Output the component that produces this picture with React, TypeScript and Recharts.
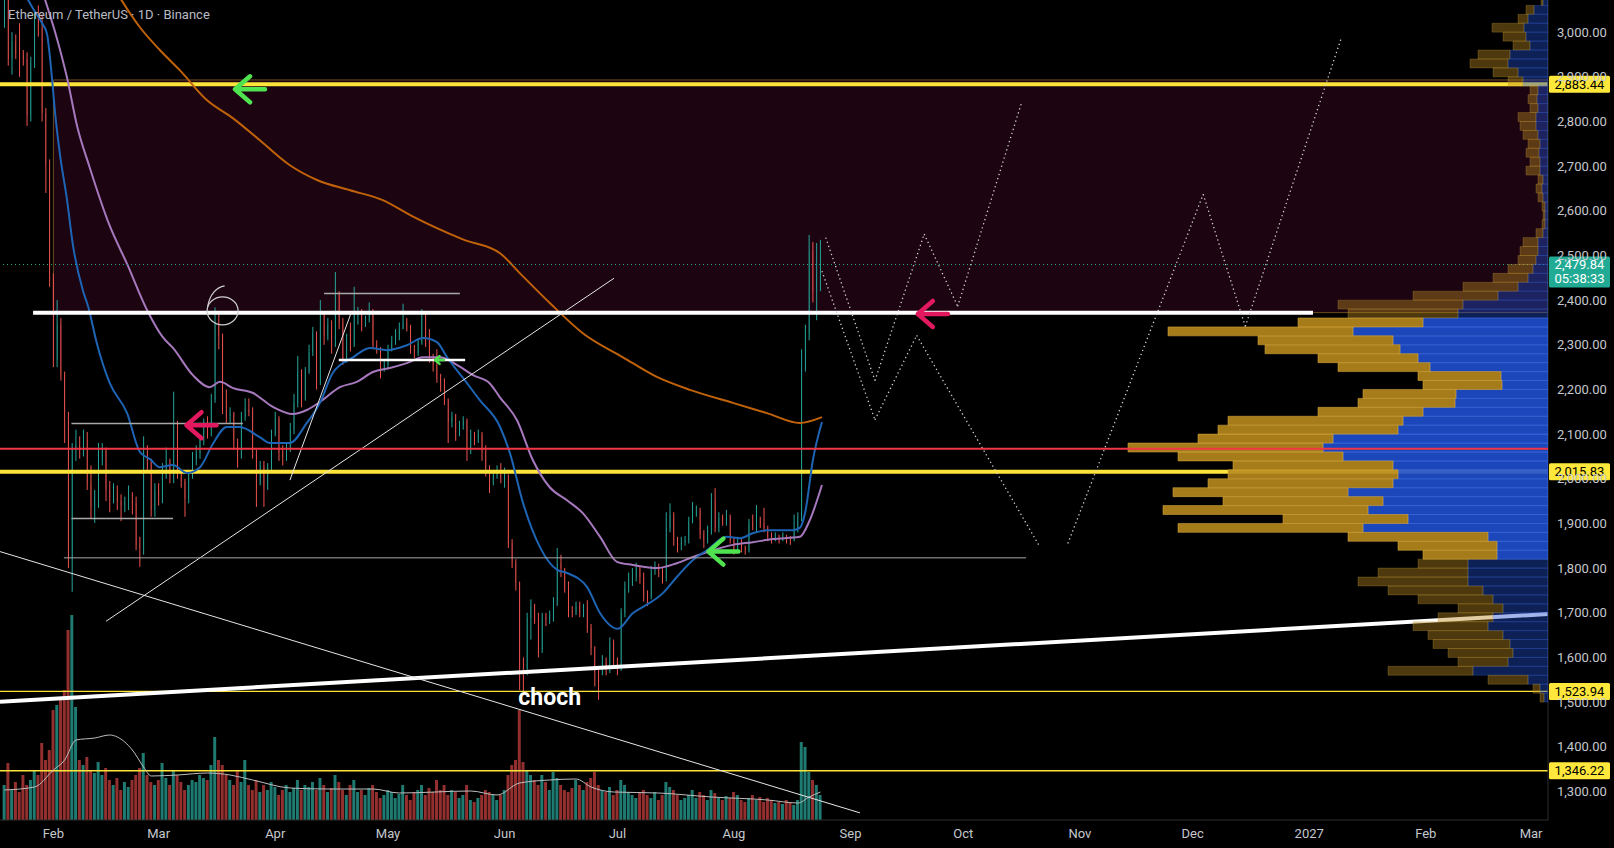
import React from "react";
import {
  ComposedChart,
  Bar,
  Line,
  XAxis,
  YAxis,
  Cell,
  ReferenceArea,
  ReferenceLine,
  ReferenceDot,
} from "recharts";

const W = 1614;
const H = 848;
const UP = "#26a69a";
const DOWN = "#ef5350";
const BORDER = "#2f2f2f";
const TEXT = "#c5c8ce";
const FONT = "Roboto, 'Noto Sans', sans-serif";
const PRICE_DOMAIN = [1236, 3072];
const DAY_DOMAIN = [-1.2, 410.5];

// daily candles, day 0 = Jan 19 2026 (open of the first day; later opens = previous close)
const firstOpen = 3040;
const closes = [
  3085, 2940, 2980, 2951, 2948, 2940, 2814, 2931, 3029, 3012,
  2819, 2702, 2447, 2266, 2344, 2232, 2147, 1825, 2064, 2075,
  2064, 2087, 1990, 1937, 1960, 2045, 2064, 1975, 1960, 1968,
  1950, 1940, 1948, 1952, 1945, 1851, 1848, 2057, 2042, 1930,
  1975, 1960, 2020, 2035, 2010, 2124, 2015, 1995, 1955, 2010,
  2042, 2057, 2087, 2124, 2110, 2176, 2350, 2318, 2154, 2140,
  2145, 2080, 2050, 2140, 2155, 2150, 2058, 1990, 2030, 1982,
  2027, 2102, 2135, 2058, 2050, 2065, 2110, 2170, 2239, 2180,
  2240, 2284, 2326, 2215, 2366, 2320, 2345, 2300, 2416, 2350,
  2266, 2311, 2300, 2370, 2372, 2345, 2355, 2375, 2300, 2290,
  2250, 2255, 2290, 2305, 2315, 2335, 2350, 2340, 2290, 2282,
  2306, 2366, 2306, 2270, 2255, 2225, 2215, 2176, 2127, 2140,
  2100, 2120, 2130, 2064, 2100, 2090, 2098, 2060, 2020, 1997,
  2010, 2015, 2000, 2005, 1856, 1811, 1767, 1578, 1575, 1688,
  1713, 1690, 1617, 1690, 1685, 1692, 1724, 1811, 1800, 1755,
  1706, 1700, 1715, 1700, 1712, 1666, 1621, 1567, 1565, 1590,
  1575, 1634, 1590, 1575, 1699, 1755, 1766, 1780, 1800, 1780,
  1740, 1735, 1795, 1800, 1795, 1778, 1890, 1919, 1863, 1850,
  1858, 1862, 1905, 1926, 1928, 1875, 1862, 1885, 1952, 1890,
  1912, 1905, 1915, 1863, 1840, 1855, 1845, 1840, 1900, 1893,
  1905, 1900, 1890, 1870, 1864, 1870, 1864, 1870, 1865, 1862,
  1890, 1915, 2250, 2326, 2512, 2418, 2460, 2479.84,
];
const highs = [
  3115, 3100, 3000, 2995, 3020, 2960, 2955, 2945, 3045, 3060,
  3040, 2830, 2715, 2460, 2400, 2360, 2240, 2150, 2080, 2110,
  2095, 2110, 2105, 2030, 1975, 2080, 2080, 2070, 1995, 1990,
  1985, 1965, 1960, 1985, 1970, 1960, 1870, 2095, 2075, 2045,
  1990, 1990, 2035, 2070, 2045, 2195, 2130, 2020, 2000, 2020,
  2060, 2075, 2095, 2135, 2140, 2190, 2384, 2375, 2325, 2200,
  2160, 2150, 2090, 2150, 2180, 2180, 2160, 2065, 2040, 2040,
  2035, 2110, 2150, 2140, 2075, 2080, 2125, 2190, 2275, 2245,
  2250, 2300, 2340, 2330, 2400, 2375, 2360, 2355, 2463, 2420,
  2360, 2325, 2350, 2430, 2385, 2380, 2365, 2395, 2380, 2310,
  2295, 2265, 2300, 2320, 2335, 2350, 2392, 2360, 2345, 2300,
  2315, 2380, 2370, 2335, 2280, 2290, 2235, 2225, 2180, 2150,
  2145, 2130, 2140, 2135, 2110, 2105, 2110, 2105, 2075, 2030,
  2020, 2030, 2035, 2025, 2010, 1865, 1820, 1770, 1600, 1700,
  1730, 1720, 1700, 1700, 1700, 1705, 1735, 1845, 1830, 1800,
  1770, 1715, 1725, 1725, 1720, 1728, 1675, 1625, 1575, 1605,
  1600, 1645, 1640, 1600, 1710, 1770, 1790, 1800, 1812, 1805,
  1790, 1750, 1805, 1815, 1810, 1800, 1925, 1945, 1925, 1870,
  1870, 1872, 1915, 1948, 1940, 1935, 1885, 1895, 1968, 1979,
  1925, 1920, 1930, 1920, 1870, 1870, 1865, 1850, 1910, 1920,
  1941, 1915, 1935, 1895, 1880, 1880, 1875, 1880, 1875, 1872,
  1920, 1925, 2290, 2345, 2546, 2530, 2528, 2535,
];
const lows = [
  3010, 2925, 2905, 2940, 2900, 2925, 2790, 2800, 2920, 2990,
  2800, 2640, 2430, 2250, 2250, 2220, 2080, 1800, 1747, 2040,
  2045, 2050, 1975, 1910, 1901, 1935, 2030, 1950, 1925, 1945,
  1930, 1905, 1925, 1930, 1920, 1840, 1803, 1830, 2020, 1915,
  1915, 1940, 1945, 2000, 1990, 1990, 2000, 1980, 1915, 1945,
  2000, 2030, 2045, 2075, 2090, 2095, 2170, 2290, 2145, 2125,
  2125, 2065, 2025, 2045, 2130, 2140, 2045, 1937, 1985, 1937,
  1975, 2020, 2095, 2040, 2030, 2040, 2060, 2100, 2160, 2160,
  2175, 2235, 2275, 2200, 2210, 2300, 2310, 2280, 2295, 2335,
  2255, 2260, 2285, 2295, 2345, 2330, 2340, 2350, 2290, 2280,
  2225, 2240, 2245, 2285, 2300, 2310, 2335, 2330, 2280, 2270,
  2275, 2300, 2295, 2260, 2240, 2215, 2195, 2165, 2080, 2115,
  2085, 2095, 2110, 2040, 2055, 2075, 2080, 2040, 2005, 1968,
  1985, 2000, 1990, 1980, 1845, 1800, 1750, 1527, 1515, 1560,
  1640, 1675, 1600, 1610, 1670, 1675, 1680, 1715, 1780, 1745,
  1690, 1690, 1695, 1690, 1690, 1655, 1605, 1535, 1505, 1560,
  1560, 1565, 1575, 1560, 1570, 1690, 1745, 1760, 1770, 1765,
  1725, 1715, 1730, 1785, 1780, 1765, 1770, 1880, 1850, 1835,
  1840, 1850, 1855, 1900, 1915, 1865, 1845, 1855, 1875, 1880,
  1880, 1895, 1895, 1855, 1830, 1835, 1835, 1830, 1835, 1885,
  1880, 1890, 1880, 1860, 1855, 1860, 1855, 1860, 1855, 1852,
  1860, 1880, 1905, 2240, 2310, 2395, 2355, 2420,
];
// daily volume (thousand ETH)
const volumes = [
  35, 57, 30, 38, 28, 45, 35, 40, 50, 45,
  77, 60, 70, 110, 115, 120, 130, 190, 205, 113,
  60, 55, 63, 50, 47, 58, 45, 52, 40, 35,
  42, 30, 38, 33, 40, 45, 52, 67, 45, 38,
  35, 40, 57, 42, 35, 50, 45, 38, 30, 35,
  40, 38, 45, 42, 40, 55, 83, 60, 55, 45,
  40, 35, 50, 38, 60, 35, 30, 40, 28, 35,
  30, 38, 33, 25, 30, 35, 28, 32, 40, 30,
  35, 33, 38, 30, 42, 35, 28, 32, 45, 38,
  30, 25, 35, 40, 28, 30, 25, 32, 35, 28,
  22, 25, 30, 28, 22, 26, 35, 25, 20, 28,
  30, 35, 25, 32, 28, 40, 30, 35, 25, 30,
  28, 22, 25, 35, 20, 18, 22, 25, 30, 28,
  25, 20, 25, 30, 45, 55, 60, 110, 58, 50,
  45, 40, 35, 45, 38, 30, 48, 42, 35, 30,
  28, 32, 40, 35, 30, 38, 42, 48, 35, 30,
  28, 33, 25, 30, 40, 35, 28, 25, 22, 28,
  30, 25, 22, 28, 20, 25, 38, 33, 30, 25,
  20, 22, 25, 30, 22, 28, 25, 20, 30, 27,
  22, 20, 24, 22, 28, 25, 20, 18, 22, 25,
  20, 23, 18, 22, 20, 17, 18, 16, 20, 18,
  15, 20, 78, 73, 48, 40, 35, 25,
];

// moving averages: [day, price]
const fastMa = [
  [4.5, 3100], [7.5, 3054], [10, 3020], [11.3, 2996], [12.6, 2899], [13.4, 2823], [14.7, 2729],
  [16.6, 2626], [18.2, 2523], [20.9, 2420], [22.2, 2387], [24.6, 2302], [28, 2214], [32.6, 2147],
  [36, 2060], [38.7, 2044], [41.3, 2026], [44.8, 2031], [48.5, 2013], [52, 2026], [55.4, 2078],
  [59.1, 2116], [62.6, 2116], [67.9, 2093], [70.6, 2080], [75.9, 2080], [80.4, 2125], [83.9, 2170],
  [87.3, 2237], [92.7, 2272], [97.2, 2293], [101.7, 2288], [107, 2299], [111.3, 2315], [115, 2306],
  [117.7, 2272], [123, 2214], [126.4, 2176], [131.8, 2116], [134.4, 2058], [137.9, 1946],
  [142.4, 1847], [147, 1796], [149.6, 1789], [154.9, 1758], [158.4, 1699], [163.1, 1664],
  [167.1, 1699], [169.8, 1713], [175.1, 1744], [178.8, 1780], [183.1, 1818], [186.8, 1840],
  [192.1, 1870], [195.6, 1867], [199, 1878], [202.8, 1885], [209.7, 1885], [211.5, 1890],
  [212.9, 1923], [215, 2042], [217.4, 2127],
];
const midMa = [
  [10.5, 3080], [13.9, 2987], [16.6, 2899], [19.3, 2790], [22.7, 2696], [28, 2566], [32.6, 2481],
  [37.9, 2378], [42.1, 2317], [44.8, 2293], [50.1, 2232], [54.6, 2205], [57.3, 2217], [60.8, 2203],
  [66.1, 2192], [71.4, 2161], [76.7, 2145], [80.4, 2154], [83.9, 2172], [89.2, 2205], [93.7, 2217],
  [98, 2239], [102.5, 2248], [107, 2259], [111.3, 2272], [115.8, 2272], [120.3, 2255], [124.6, 2232],
  [129, 2214], [131.7, 2183], [136.3, 2131], [140.5, 2042], [145, 1981], [149.6, 1952],
  [153.8, 1923], [158.4, 1870], [162.9, 1814], [167.1, 1807], [173.5, 1800], [178.8, 1811],
  [183.1, 1825], [188.4, 1840], [193.7, 1852], [199, 1858], [204.4, 1865], [211.5, 1870],
  [214.2, 1908], [217.4, 1986],
];
const slowMa = [
  [29, 3100], [36, 3011], [41.3, 2960], [46.6, 2915], [53.8, 2848], [60.8, 2807], [67.9, 2758],
  [75.9, 2702], [83.1, 2669], [91.9, 2646], [100.6, 2624], [108.4, 2588], [121.9, 2536],
  [131.8, 2505], [137.1, 2460], [145.1, 2393], [153.8, 2326], [164.5, 2272], [173.5, 2228],
  [182.3, 2199], [193.7, 2170], [202.8, 2147], [211.5, 2125], [217.4, 2138],
];
const volumeMa = [
  [0, 30], [8, 33], [13, 50], [16, 60], [19, 80], [24, 82], [28, 85], [30, 83], [34, 70],
  [37, 53], [39, 44], [46, 45], [54, 47], [60, 45], [66, 40], [76, 32], [86, 31], [98, 31],
  [105, 27], [124, 29], [131, 25], [137, 37], [145, 40], [152, 41], [156, 33], [162, 28],
  [174, 27], [188, 23], [203, 20], [211, 17], [214, 23], [217, 28],
];

// visible-range volume profile, rows of 20 USDT: bottom price, total, down part
const profileBottoms = [
  1500, 1520, 1540, 1560, 1580, 1600, 1620, 1640, 1660, 1680,
  1700, 1720, 1740, 1760, 1780, 1800, 1820, 1840, 1860, 1880,
  1900, 1920, 1940, 1960, 1980, 2000, 2020, 2040, 2060, 2080,
  2100, 2120, 2140, 2160, 2180, 2200, 2220, 2240, 2260, 2280,
  2300, 2320, 2340, 2360, 2380, 2400, 2420, 2440, 2460, 2480,
  2500, 2520, 2540, 2560, 2580, 2600, 2620, 2640, 2660, 2680,
  2700, 2720, 2740, 2760, 2780, 2800, 2820, 2840, 2860, 2880,
  2900, 2920, 2940, 2960, 2980, 3000, 3020, 3040, 3060,
];
const profileTotal = [
  8, 15, 60, 160, 90, 100, 115, 120, 135, 110,
  90, 130, 160, 190, 170, 130, 125, 150, 200, 370,
  265, 385, 325, 375, 340, 320, 315, 370, 420, 350,
  330, 320, 230, 190, 185, 125, 130, 210, 230, 283,
  290, 380, 250, 200, 210, 135, 85, 55, 40, 30,
  28, 25, 12, 6, 5, 6, 10, 12, 10, 22,
  18, 22, 20, 25, 28, 30, 18, 20, 18, 40,
  55, 78, 70, 35, 45, 56, 30, 22, 7,
];
const profileDown = [
  4, 8, 20, 75, 40, 35, 38, 45, 60, 55,
  45, 55, 65, 80, 80, 80, 51, 51, 60, 185,
  140, 180, 165, 200, 155, 150, 155, 205, 225, 215,
  150, 145, 125, 93, 92, 46, 47, 118, 130, 148,
  155, 195, 125, 90, 85, 50, 30, 20, 15, 12,
  10, 10, 5, 3, 3, 3, 5, 6, 5, 8,
  8, 9, 8, 10, 12, 12, 10, 11, 10, 25,
  30, 40, 38, 18, 22, 24, 20, 14, 5,
];
const profileStep = 20;
const valueAreaLow = 1820;
const valueAreaHigh = 2360;

const monthTicks = [13, 41, 72, 102, 133, 163, 194, 225, 255, 286, 316, 347, 378, 406];
const monthLabels = ["Feb", "Mar", "Apr", "May", "Jun", "Jul", "Aug", "Sep", "Oct", "Nov", "Dec", "2027", "Feb", "Mar"];
const priceTicks = [1300, 1400, 1500, 1600, 1700, 1800, 1900, 2000, 2100, 2200, 2300, 2400, 2500, 2600, 2700, 2800, 2900, 3000];

const levelTags = [2883.44, 2015.83, 1523.94, 1346.22];
const redLevel = 2067;
const lastPrice = 2479.84;
const countdown = "05:38:33";

// hand drawn marks: [day, price]
const projectionA = [[218.4, 2540], [231.5, 2220], [244.6, 2548], [253.5, 2386], [270.6, 2845]];
const projectionB = [[217.4, 2465], [231.5, 2132], [242.6, 2321], [275.4, 1847]];
const projectionC = [[282.8, 1855], [318.8, 2637], [330, 2341], [355.6, 2989]];
const trendThick = [[-1.2, 1501], [410.5, 1697]];
const trendDown = [[-1.2, 1837], [227.5, 1252]];
const trendUp = [[27, 1681], [162.1, 2449]];
const trendSteep = [[75.9, 1997], [92.3, 2374]];
const supportLine = [[7.6, 2372], [348, 2372]];
const rangeLines = [
  [15.8, 271.7, 1823],
  [17.8, 63.4, 2124],
  [17.8, 44.8, 1911],
  [85, 121.1, 2415],
];
const midRangeLine = [88.9, 122.5, 2266];
const greenArrows = [[61.3, 2872, 1], [114.5, 2266, 0.3], [187.2, 1837, 1]];
const pinkArrows = [[48.4, 2120], [242.9, 2369]];
const chochPoint = [145, 1493];
const sixPoint = [58, 2376];

const candles = closes.map((c, i) => ({
  day: i,
  o: i === 0 ? firstOpen : closes[i - 1],
  h: highs[i],
  l: lows[i],
  c,
  vol: volumes[i],
}));
const profileRows = profileBottoms.map((p, i) => ({
  mid: p + profileStep / 2,
  down: profileDown[i],
  up: profileTotal[i] - profileDown[i],
  inVa: p >= valueAreaLow && p < valueAreaHigh,
}));
const toPts = (arr: number[][]) => arr.map(([day, v]) => ({ day, v }));

const fmt = (v: number) =>
  v.toLocaleString("en-US", { minimumFractionDigits: 2, maximumFractionDigits: 2 });

const Candle = (props: any) => {
  const { x, y, width, height, payload } = props;
  if (!payload || height == null) return null;
  const { o, h, l, c } = payload;
  const k = height / (h - l || 1);
  const yo = y + (h - o) * k;
  const yc = y + (h - c) * k;
  const color = c >= o ? UP : DOWN;
  const mid = x + width / 2;
  return (
    <g>
      <line x1={mid} x2={mid} y1={y} y2={y + height} stroke={color} strokeWidth={1} />
      <rect x={x} y={Math.min(yo, yc)} width={width} height={Math.max(1, Math.abs(yc - yo))} fill={color} />
    </g>
  );
};

const Arrow = ({ cx, cy, color, s }: any) => (
  <path
    d={`M${cx + 30 * s} ${cy} L${cx} ${cy} M${cx + 15 * s} ${cy - 13 * s} L${cx} ${cy} L${cx + 15 * s} ${cy + 13 * s}`}
    stroke={color}
    strokeWidth={s < 0.5 ? 2.5 : 4.5}
    fill="none"
    strokeLinecap="round"
    strokeLinejoin="round"
  />
);

const XTick = (props: any) => {
  const { x, y, payload } = props;
  const idx = monthTicks.indexOf(payload.value);
  return (
    <text x={x} y={y} dy={18} textAnchor="middle" fill={TEXT} fontSize={13} fontFamily={FONT}>
      {monthLabels[idx]}
    </text>
  );
};

const YTick = (props: any) => {
  const { x, y, payload } = props;
  return (
    <text x={x} y={y} dy={4.5} textAnchor="start" fill={TEXT} fontSize={13} fontFamily={FONT}>
      {fmt(payload.value)}
    </text>
  );
};

const segLine = (pts: number[][], key: string, stroke: string, width: number, dash?: string) => (
  <ReferenceLine
    key={key}
    segment={[{ x: pts[0][0], y: pts[0][1] }, { x: pts[1][0], y: pts[1][1] }]}
    stroke={stroke}
    strokeWidth={width}
    strokeDasharray={dash}
    ifOverflow="hidden"
  />
);

const pathLines = (path: number[][], name: string) =>
  path.slice(1).map((p, i) => segLine([path[i], p], `${name}${i}`, "#cfcfcf", 1.3, "1.3 3"));

const noLineDots = { dot: false, activeDot: false, isAnimationActive: false } as const;

function PriceChart() {
  return (
    <ComposedChart width={W} height={H} data={candles} margin={{ top: 0, right: 0, bottom: 0, left: 0 }}>
      <XAxis
        dataKey="day"
        type="number"
        domain={DAY_DOMAIN}
        allowDataOverflow
        ticks={monthTicks}
        interval={0}
        tick={XTick}
        tickLine={false}
        tickSize={0}
        tickMargin={0}
        axisLine={{ stroke: BORDER }}
        height={28}
      />
      <XAxis xAxisId="vx" dataKey="day" type="number" domain={DAY_DOMAIN} allowDataOverflow hide />
      <YAxis
        orientation="right"
        domain={PRICE_DOMAIN}
        allowDataOverflow
        ticks={priceTicks}
        interval={0}
        width={66}
        tick={YTick}
        tickLine={false}
        tickSize={0}
        tickMargin={9}
        axisLine={{ stroke: BORDER }}
      />
      <YAxis yAxisId="vol" domain={[0, 820]} allowDataOverflow hide />

      <ReferenceArea
        x1={13}
        x2={DAY_DOMAIN[1]}
        y1={2372}
        y2={2893}
        fill="#1c0410"
        fillOpacity={1}
        stroke="#6b4c1e"
        strokeWidth={1}
        ifOverflow="hidden"
      />

      <ReferenceLine y={2883.44} stroke="#ffe43a" strokeWidth={4} />
      <ReferenceLine y={2015.83} stroke="#ffe43a" strokeWidth={4} />
      <ReferenceLine y={1523.94} stroke="#ffe43a" strokeWidth={1.3} />
      <ReferenceLine y={1346.22} stroke="#ffe43a" strokeWidth={1.3} />
      {segLine(trendThick, "tt", "#ffffff", 4)}

      <Bar xAxisId="vx" yAxisId="vol" dataKey="vol" barSize={3} isAnimationActive={false}>
        {candles.map((d) => (
          <Cell key={d.day} fill={d.c >= d.o ? "#1f7a71" : "#93302f"} />
        ))}
      </Bar>
      <Line yAxisId="vol" data={toPts(volumeMa)} dataKey="v" type="monotone" stroke="#bdbdbd" strokeWidth={1} {...noLineDots} />

      <Bar dataKey={(d: any) => [d.l, d.h]} barSize={3} shape={Candle} isAnimationActive={false} />

      <Line data={toPts(slowMa)} dataKey="v" type="monotone" stroke="#c0620a" strokeWidth={2} {...noLineDots} />
      <Line data={toPts(midMa)} dataKey="v" type="monotone" stroke="#a678bd" strokeWidth={2} {...noLineDots} />
      <Line data={toPts(fastMa)} dataKey="v" type="monotone" stroke="#1e64b4" strokeWidth={2} {...noLineDots} />

      <ReferenceLine y={lastPrice} stroke="#22ab94" strokeWidth={1} strokeDasharray="1 3" />

      {segLine(supportLine, "sl", "#ffffff", 4)}
      {segLine(trendDown, "td", "#e6e6e6", 1)}
      {segLine(trendUp, "tu", "#e6e6e6", 1)}
      {segLine(trendSteep, "ts", "#e6e6e6", 1)}
      {rangeLines.map(([a, b, p], i) => segLine([[a, p], [b, p]], `rl${i}`, "#a8a8a8", i === 0 ? 1 : 1.5))}
      {segLine([[midRangeLine[0], midRangeLine[2]], [midRangeLine[1], midRangeLine[2]]], "mr", "#ffffff", 2.5)}
      {pathLines(projectionA, "pa")}
      {pathLines(projectionB, "pb")}
      {pathLines(projectionC, "pc")}

      {greenArrows.map(([d, p, s], i) => (
        <ReferenceDot key={`ga${i}`} x={d} y={p} r={0} shape={(q: any) => <Arrow {...q} color="#4fe34f" s={s} />} />
      ))}
      {pinkArrows.map(([d, p], i) => (
        <ReferenceDot key={`pk${i}`} x={d} y={p} r={0} shape={(q: any) => <Arrow {...q} color="#e2195f" s={1} />} />
      ))}
      <ReferenceDot
        x={sixPoint[0]}
        y={sixPoint[1]}
        r={0}
        shape={(q: any) => (
          <g fill="none" stroke="#cfcfcf" strokeWidth={1.2}>
            <ellipse cx={q.cx} cy={q.cy} rx={15.5} ry={14} />
            <path d={`M${q.cx + 2} ${q.cy - 25} C${q.cx - 6} ${q.cy - 24} ${q.cx - 13} ${q.cy - 16} ${q.cx - 15} ${q.cy - 4}`} />
          </g>
        )}
      />
      <ReferenceDot
        x={chochPoint[0]}
        y={chochPoint[1]}
        r={0}
        shape={(q: any) => (
          <text x={q.cx} y={q.cy} textAnchor="middle" fill="#ffffff" fontSize={23} fontWeight={700} fontFamily={FONT}>
            choch
          </text>
        )}
      />

      {levelTags.map((p) => (
        <ReferenceDot
          key={`tag${p}`}
          x={DAY_DOMAIN[1]}
          y={p}
          r={0}
          ifOverflow="visible"
          shape={(q: any) => (
            <g>
              <rect x={q.cx + 1} y={q.cy - 8.5} width={61} height={17} fill="#ffe83b" rx={1.5} />
              <text x={q.cx + 31.5} y={q.cy + 4.5} textAnchor="middle" fill="#000" fontSize={13} fontFamily={FONT}>
                {fmt(p)}
              </text>
            </g>
          )}
        />
      ))}
      <ReferenceDot
        x={DAY_DOMAIN[1]}
        y={lastPrice}
        r={0}
        ifOverflow="visible"
        shape={(q: any) => (
          <g>
            <rect x={q.cx + 1} y={q.cy - 8} width={61} height={31} fill="#22ab94" rx={1.5} />
            <text x={q.cx + 31.5} y={q.cy + 4.5} textAnchor="middle" fill="#ffffff" fontSize={13} fontFamily={FONT}>
              {fmt(lastPrice)}
            </text>
            <text x={q.cx + 31.5} y={q.cy + 19} textAnchor="middle" fill="#ffffff" fontSize={13} fontFamily={FONT}>
              {countdown}
            </text>
          </g>
        )}
      />
    </ComposedChart>
  );
}

// horizontal volume profile anchored at the right edge of the plot
function ProfileChart() {
  return (
    <ComposedChart
      layout="vertical"
      width={W}
      height={H}
      data={profileRows}
      margin={{ top: 0, right: 66, bottom: 28, left: 0 }}
      barCategoryGap={0}
      barGap={0}
    >
      <XAxis type="number" domain={[0, 1548]} allowDataOverflow reversed hide />
      <YAxis type="number" dataKey="mid" domain={PRICE_DOMAIN} allowDataOverflow reversed hide />
      <Bar dataKey="down" stackId="vp" barSize={8.93} isAnimationActive={false}>
        {profileRows.map((r, i) => (
          <Cell
            key={i}
            fill="#1e4fcf"
            fillOpacity={r.inVa ? 0.9 : 0.42}
            stroke="#4673e6"
            strokeOpacity={r.inVa ? 0.9 : 0.42}
            strokeWidth={0.6}
          />
        ))}
      </Bar>
      <Bar dataKey="up" stackId="vp" barSize={8.93} isAnimationActive={false}>
        {profileRows.map((r, i) => (
          <Cell
            key={i}
            fill="#b8891e"
            fillOpacity={r.inVa ? 0.9 : 0.42}
            stroke="#d8aa40"
            strokeOpacity={r.inVa ? 0.9 : 0.42}
            strokeWidth={0.6}
          />
        ))}
      </Bar>
      <ReferenceLine y={redLevel} stroke="#f23645" strokeWidth={2} />
    </ComposedChart>
  );
}

export default function App() {
  return (
    <div
      style={{
        position: "fixed",
        left: 0,
        top: 0,
        width: W,
        height: H,
        background: "#000",
        overflow: "hidden",
        fontFamily: FONT,
      }}
    >
      <div style={{ position: "absolute", left: 0, top: 0 }}>
        <PriceChart />
      </div>
      <div style={{ position: "absolute", left: 0, top: 0, pointerEvents: "none" }}>
        <ProfileChart />
      </div>
      <div
        style={{
          position: "absolute",
          left: 8,
          top: 7,
          fontSize: 13,
          lineHeight: "16px",
          color: "#b8bcc4",
          pointerEvents: "none",
          whiteSpace: "nowrap",
        }}
      >
        Ethereum / TetherUS · 1D · Binance
      </div>
    </div>
  );
}
